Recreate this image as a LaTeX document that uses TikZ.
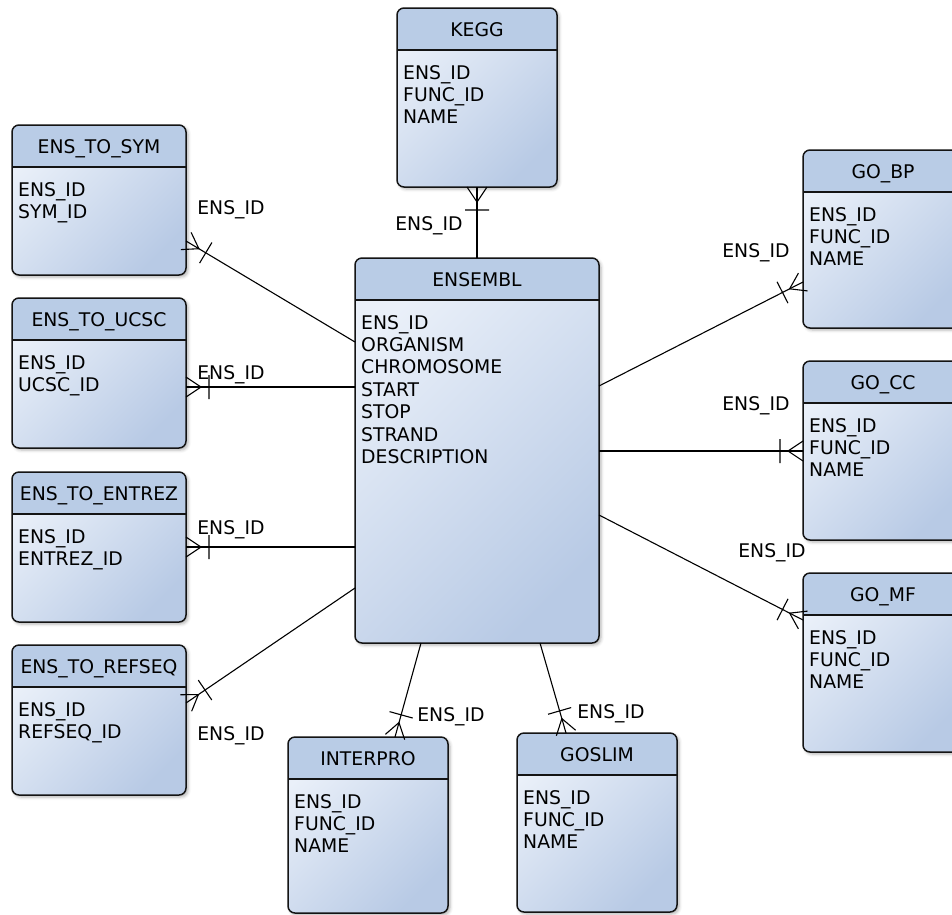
\documentclass[tikz,border=0pt]{standalone}
\usepackage{fontspec}
\setmainfont{DejaVu Sans}
\usepackage{tikz}
\usetikzlibrary{shadows.blur,decorations.markings}
\definecolor{headBlue}{RGB}{185,204,230}
\definecolor{bodyLight}{RGB}{234,240,249}
\definecolor{bodyDark}{RGB}{184,202,229}
\definecolor{edgeGrey}{RGB}{20,20,20}

% table: name, x, y (top left), width, height, title, fields
\newcommand{\erTable}[7]{%
  \node[tableBody, minimum width=#4pt, minimum height=#5pt] (#1) at (#2,#3) {};
  \begin{scope}
    \clip[rounded corners=7pt] (#1.north west) rectangle (#1.south east);
    \fill[headBlue] (#1.north west) rectangle ([yshift=-42pt]#1.north east);
  \end{scope}
  \draw[tableEdge] ([yshift=-42pt]#1.north west) -- ([yshift=-42pt]#1.north east);
  \draw[tableEdge, rounded corners=7pt] (#1.north west) rectangle (#1.south east);
  \node[anchor=base, inner sep=0pt] (#1Title) at ([yshift=-28pt]#1.north) {#6};
  \node[fieldText] (#1Fields) at ([xshift=6pt,yshift=-57pt]#1.north west) {#7};
}

\begin{document}
\begin{tikzpicture}[x=1pt, y=-1pt, font=\fontsize{18.8pt}{22.4pt}\selectfont,
  tableBody/.style={rectangle, rounded corners=7pt, inner sep=0pt, outer sep=0pt,
    anchor=north west, top color=bodyLight, bottom color=bodyDark, shading angle=45,
    blur shadow={shadow xshift=2pt, shadow yshift=-2pt, shadow blur radius=3pt,
      shadow opacity=30}},
  tableEdge/.style={draw=edgeGrey, line width=1.5pt},
  fieldText/.style={anchor=north west, align=left, inner sep=0pt},
  relation/.style={draw=black, line width=1.1pt,
    decoration={markings, mark=at position 1 with {
      \draw[line width=1.1pt] (0pt,10pt) -- (-15pt,0pt) -- (0pt,-10pt)
        (-23pt,-12pt) -- (-23pt,12pt);}},
    postaction=decorate},
  relLabel/.style={anchor=base, inner sep=0pt}]

\useasboundingbox (0,0) rectangle (952,914);
\clip (0,0) rectangle (952,914);

% tables
\erTable{kegg}{397}{8}{160}{179}{KEGG}{ENS\_ID\\FUNC\_ID\\NAME}
\erTable{ensToSym}{12}{125}{174}{150}{ENS\_TO\_SYM}{ENS\_ID\\SYM\_ID}
\erTable{ensToUcsc}{12}{298}{174}{150}{ENS\_TO\_UCSC}{ENS\_ID\\UCSC\_ID}
\erTable{ensToEntrez}{12}{472}{174}{150}{ENS\_TO\_ENTREZ}{ENS\_ID\\ENTREZ\_ID}
\erTable{ensToRefseq}{12}{645}{174}{150}{ENS\_TO\_REFSEQ}{ENS\_ID\\REFSEQ\_ID}
\erTable{ensembl}{355}{258}{244}{385}{ENSEMBL}{ENS\_ID\\ORGANISM\\CHROMOSOME\\START\\STOP\\STRAND\\DESCRIPTION}
\erTable{goBp}{803}{150}{160}{178}{GO\_BP}{ENS\_ID\\FUNC\_ID\\NAME}
\erTable{goCc}{803}{361}{160}{179}{GO\_CC}{ENS\_ID\\FUNC\_ID\\NAME}
\erTable{goMf}{803}{573}{160}{179}{GO\_MF}{ENS\_ID\\FUNC\_ID\\NAME}
\erTable{interpro}{288}{737}{160}{176}{INTERPRO}{ENS\_ID\\FUNC\_ID\\NAME}
\erTable{goslim}{517}{733}{160}{179}{GOSLIM}{ENS\_ID\\FUNC\_ID\\NAME}

% relations
\draw[relation] (ensembl.north) -- (kegg.south);
\draw[relation] ([yshift=-84pt]ensembl.north west) -- ([yshift=-116pt]ensToSym.north east);
\draw[relation] ([yshift=-129pt]ensembl.north west) -- ([yshift=-89pt]ensToUcsc.north east);
\draw[relation] ([yshift=-289pt]ensembl.north west) -- ([yshift=-75pt]ensToEntrez.north east);
\draw[relation] ([yshift=-330pt]ensembl.north west) -- ([yshift=-58pt]ensToRefseq.north east);
\draw[relation] ([yshift=-128pt]ensembl.north east) -- ([yshift=-132pt]goBp.north west);
\draw[relation] ([yshift=-193pt]ensembl.north east) -- ([yshift=-90pt]goCc.north west);
\draw[relation] ([yshift=-257pt]ensembl.north east) -- ([yshift=-47pt]goMf.north west);
\draw[relation] ([xshift=66pt]ensembl.south west) -- ([xshift=107pt]interpro.north west);
\draw[relation] ([xshift=-59pt]ensembl.south east) -- ([xshift=49pt]goslim.north west);

% labels
\node[relLabel] (lblKegg) at (429,230) {ENS\_ID};
\node[relLabel] (lblSym) at (231,214) {ENS\_ID};
\node[relLabel] (lblUcsc) at (231,379) {ENS\_ID};
\node[relLabel] (lblEntrez) at (231,534) {ENS\_ID};
\node[relLabel] (lblRefseq) at (231,740) {ENS\_ID};
\node[relLabel] (lblGoBp) at (756,257) {ENS\_ID};
\node[relLabel] (lblGoCc) at (756,410) {ENS\_ID};
\node[relLabel] (lblGoMf) at (772,557) {ENS\_ID};
\node[relLabel] (lblInterpro) at (451,721) {ENS\_ID};
\node[relLabel] (lblGoslim) at (611,718) {ENS\_ID};

\end{tikzpicture}
\end{document}
